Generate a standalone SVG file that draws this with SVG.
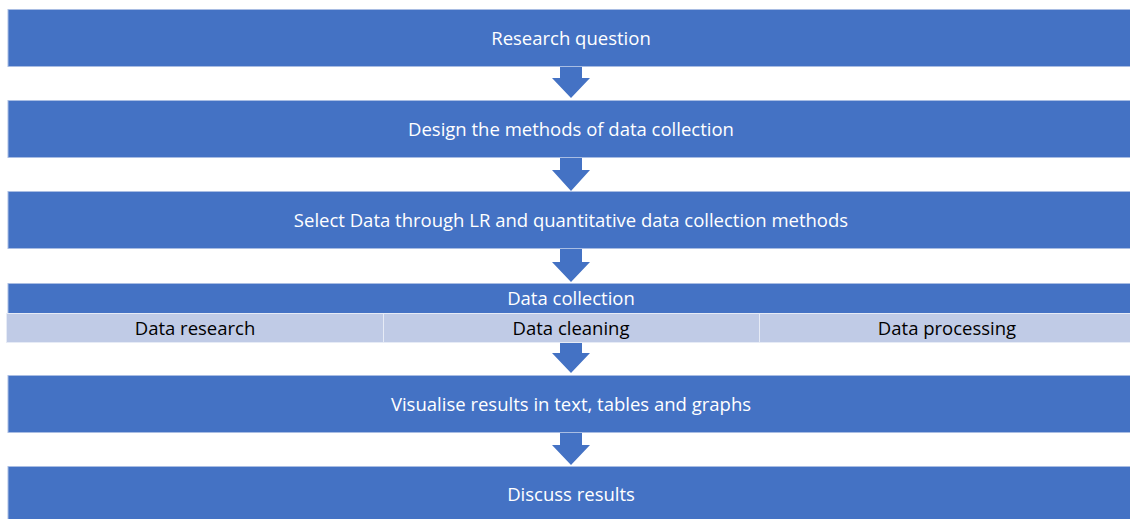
<svg xmlns="http://www.w3.org/2000/svg" width="1130" height="519" viewBox="0 0 1130 519">
<style>
.box{fill:#4472c4;stroke:#a9bde3;stroke-width:1}
.sub{fill:#c0cbe6;stroke:#e6ebf6;stroke-width:1}
.arr{fill:#4472c4}
text{font-family:"Open Sans","Liberation Sans",sans-serif;font-size:18.5px;text-anchor:middle;dominant-baseline:central}
.w{fill:#ffffff}
.k{fill:#000000}
</style>
<rect width="1130" height="519" fill="#ffffff"/>
<g id="connectors">
<polygon class="arr" points="560,66 582,66 582,78 590,78 571,98 552,78 560,78"/>
<polygon class="arr" points="560,157 582,157 582,170 590,170 571,191 552,170 560,170"/>
<polygon class="arr" points="560,248 582,248 582,262 590,262 571,282 552,262 560,262"/>
<polygon class="arr" points="560,343 582,343 582,353 590,353 571,373 552,353 560,353"/>
<polygon class="arr" points="560,432 582,432 582,445 590,445 571,465 552,445 560,445"/>
</g>
<g id="n1"><rect class="box" x="8" y="9.5" width="1130" height="57"/><text class="w" x="571" y="37">Research question</text></g>
<g id="n2"><rect class="box" x="8" y="100.5" width="1130" height="57"/><text class="w" x="571" y="128.5">Design the methods of data collection</text></g>
<g id="n3"><rect class="box" x="8" y="191.5" width="1130" height="57"/><text class="w" x="571" y="219.5">Select Data through LR and quantitative data collection methods</text></g>
<g id="n4"><rect class="box" x="8" y="283.5" width="1130" height="30"/><text class="w" x="571" y="297.5">Data collection</text></g>
<g id="n4a"><rect class="sub" x="6.5" y="313.5" width="377" height="29"/><text class="k" x="195" y="327.5">Data research</text></g>
<g id="n4b"><rect class="sub" x="383.5" y="313.5" width="376" height="29"/><text class="k" x="571" y="327.5">Data cleaning</text></g>
<g id="n4c"><rect class="sub" x="759.5" y="313.5" width="380" height="29"/><text class="k" x="947" y="327.5">Data processing</text></g>
<g id="n5"><rect class="box" x="8" y="375.5" width="1130" height="57"/><text class="w" x="571" y="403.5">Visualise results in text, tables and graphs</text></g>
<g id="n6"><rect class="box" x="8" y="466.5" width="1130" height="57"/><text class="w" x="571" y="493.5">Discuss results</text></g>
</svg>
